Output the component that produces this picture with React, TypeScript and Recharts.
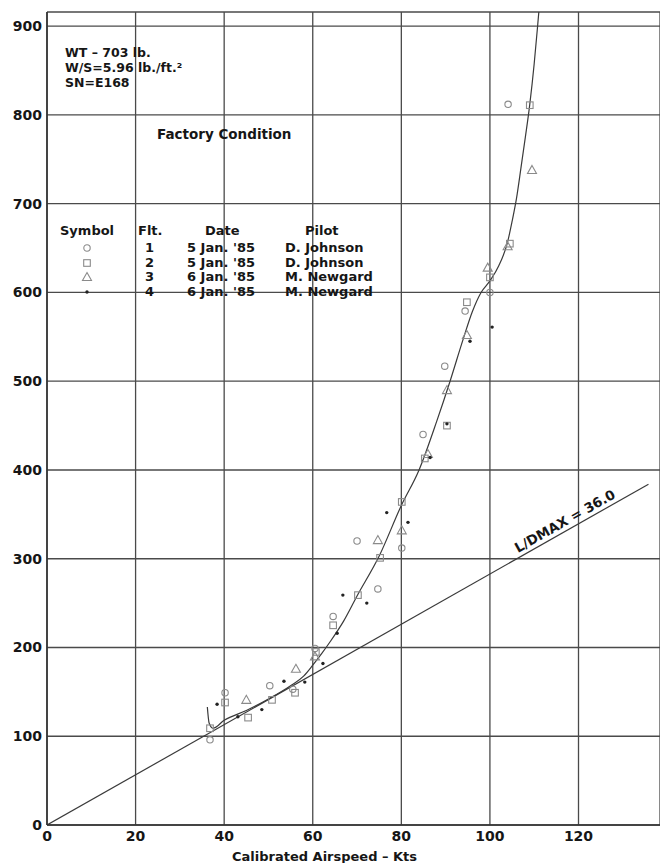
import { ComposedChart, Line, Scatter, XAxis, YAxis, CartesianGrid } from 'recharts'

const X_TICKS = [0, 20, 40, 60, 80, 100, 120]
const Y_TICKS = [0, 100, 200, 300, 400, 500, 600, 700, 800, 900]

// flight test points, calibrated airspeed (kts) vs rate of sink
const flight1 = [
  { x: 36.8, y: 96 }, { x: 40.2, y: 149 }, { x: 50.3, y: 157 }, { x: 55.5, y: 153 }, { x: 60.5, y: 199 },
  { x: 64.6, y: 235 }, { x: 70, y: 320 }, { x: 74.7, y: 266 }, { x: 80.1, y: 312 }, { x: 84.9, y: 440 },
  { x: 89.8, y: 517 }, { x: 94.4, y: 579 }, { x: 100, y: 600 }, { x: 104.1, y: 812 },
]
const flight2 = [
  { x: 36.8, y: 109 }, { x: 40.2, y: 138 }, { x: 45.4, y: 121 }, { x: 50.8, y: 141 }, { x: 56, y: 149 },
  { x: 60.7, y: 195 }, { x: 64.6, y: 225 }, { x: 70.2, y: 259 }, { x: 75.2, y: 301 }, { x: 80.1, y: 364 },
  { x: 85.3, y: 413 }, { x: 90.3, y: 450 }, { x: 94.8, y: 589 }, { x: 100, y: 617 }, { x: 104.5, y: 655 },
  { x: 109, y: 811 },
]
const flight3 = [
  { x: 45, y: 141 }, { x: 56.2, y: 176 }, { x: 60.5, y: 190 }, { x: 74.7, y: 321 }, { x: 80.1, y: 332 },
  { x: 86, y: 418 }, { x: 90.3, y: 490 }, { x: 94.8, y: 552 }, { x: 99.5, y: 628 }, { x: 104, y: 652 },
  { x: 109.5, y: 738 },
]
const flight4 = [
  { x: 38.4, y: 136 }, { x: 43.1, y: 122 }, { x: 48.5, y: 130 }, { x: 53.5, y: 162 }, { x: 58.2, y: 161 },
  { x: 62.3, y: 182 }, { x: 65.5, y: 216 }, { x: 66.8, y: 259 }, { x: 72.2, y: 250 }, { x: 76.7, y: 352 },
  { x: 81.5, y: 341 }, { x: 86.5, y: 414 }, { x: 90.3, y: 452 }, { x: 95.5, y: 545 }, { x: 100.5, y: 561 },
]

// faired curve through the data
const fairedCurve = [
  { x: 36.2, y: 133 }, { x: 36.6, y: 115 }, { x: 37.5, y: 109 }, { x: 40, y: 118 }, { x: 45, y: 129 },
  { x: 50, y: 142 }, { x: 55, y: 157 }, { x: 58, y: 168 }, { x: 60, y: 180 }, { x: 62, y: 193 },
  { x: 64, y: 207 }, { x: 67, y: 230 }, { x: 70, y: 258 }, { x: 75, y: 303 }, { x: 80, y: 360 },
  { x: 84, y: 400 }, { x: 88, y: 455 }, { x: 91, y: 500 }, { x: 94, y: 548 }, { x: 96, y: 578 },
  { x: 98, y: 600 }, { x: 100, y: 613 }, { x: 102, y: 630 }, { x: 104, y: 657 }, { x: 105, y: 680 },
  { x: 106, y: 706 }, { x: 107, y: 740 }, { x: 108, y: 775 }, { x: 109, y: 812 }, { x: 110, y: 858 },
  { x: 110.8, y: 902 }, { x: 111.2, y: 925 },
]

// L/D max tangent line
const ldLine = [{ x: 0, y: 0 }, { x: 135.8, y: 384 }]
const ldLabel = [{ x: 118, y: 333 }]

const legendRows = [
  { flt: '1', date: "5 Jan. '85", pilot: 'D. Johnson', sym: 'circle' },
  { flt: '2', date: "5 Jan. '85", pilot: 'D. Johnson', sym: 'square' },
  { flt: '3', date: "6 Jan. '85", pilot: 'M. Newgard', sym: 'triangle' },
  { flt: '4', date: "6 Jan. '85", pilot: 'M. Newgard', sym: 'dot' },
]

const MARK = '#8a8a8a'
const INK = '#161616'
const FONT = '"DejaVu Sans", sans-serif'

function Sym({ kind, cx, cy }: { kind: string; cx: number; cy: number }) {
  if (kind === 'circle') return <circle cx={cx} cy={cy} r={3.2} fill="none" stroke={MARK} strokeWidth={1.1} />
  if (kind === 'square') return <rect x={cx - 3.3} y={cy - 3.3} width={6.6} height={6.6} fill="none" stroke={MARK} strokeWidth={1.1} />
  if (kind === 'triangle') return <path d={`M${cx},${cy - 4.5}L${cx + 4.5},${cy + 3.5}L${cx - 4.5},${cy + 3.5}Z`} fill="none" stroke={MARK} strokeWidth={1.1} />
  return <circle cx={cx} cy={cy} r={1.7} fill="#222" />
}

const shapeOf = (kind: string) => (p: any) => <Sym kind={kind} cx={p.cx} cy={p.cy} />

const LdText = (p: any) => (
  <text x={p.cx} y={p.cy} dy={-5} textAnchor="middle" transform={`rotate(-29.5 ${p.cx} ${p.cy})`}
    fontFamily={FONT} fontWeight="bold" fontSize={13.5} fill={INK}>
    L/DMAX = 36.0
  </text>
)

const txt = (extra: React.CSSProperties): React.CSSProperties => ({
  position: 'absolute', fontFamily: FONT, fontWeight: 'bold', color: INK, whiteSpace: 'nowrap', lineHeight: '15px', ...extra,
})

export default function App() {
  const rowY = [248, 263, 277, 292]
  return (
    <div style={{ position: 'absolute', left: 0, top: 0, width: 660, height: 863, background: '#fff', overflow: 'hidden' }}>
      <ComposedChart width={660} height={863} margin={{ top: 12, right: 0, left: 7, bottom: 8 }}>
        <CartesianGrid stroke="#4a4a4a" strokeWidth={1.3} />
        <XAxis type="number" dataKey="x" domain={[0, 138.4]} ticks={X_TICKS} height={30} allowDataOverflow
          tickLine={false} tickSize={4} tickMargin={2} axisLine={{ stroke: '#333', strokeWidth: 1.6 }}
          tick={{ fontFamily: FONT, fontWeight: 'bold', fontSize: 14, fill: INK }} />
        <YAxis type="number" dataKey="y" domain={[0, 916]} ticks={Y_TICKS} width={40} allowDataOverflow
          tickLine={false} tickSize={3} tickMargin={2} axisLine={{ stroke: '#333', strokeWidth: 1.6 }}
          tick={{ fontFamily: FONT, fontWeight: 'bold', fontSize: 14, fill: INK }} />
        <Line data={ldLine} dataKey="y" type="linear" stroke="#3a3a3a" strokeWidth={1.2} dot={false} isAnimationActive={false} />
        <Line data={fairedCurve} dataKey="y" type="monotone" stroke="#3a3a3a" strokeWidth={1.2} dot={false} isAnimationActive={false} />
        <Scatter data={flight1} shape={shapeOf('circle')} isAnimationActive={false} />
        <Scatter data={flight2} shape={shapeOf('square')} isAnimationActive={false} />
        <Scatter data={flight3} shape={shapeOf('triangle')} isAnimationActive={false} />
        <Scatter data={flight4} shape={shapeOf('dot')} isAnimationActive={false} />
        <Scatter data={ldLabel} shape={LdText} isAnimationActive={false} />
      </ComposedChart>

      <div style={txt({ left: 65, top: 45, fontSize: 12.5 })}>WT – 703 lb.</div>
      <div style={txt({ left: 65, top: 60, fontSize: 12.5 })}>W/S=5.96 lb./ft.²</div>
      <div style={txt({ left: 65, top: 75, fontSize: 12.5 })}>SN=E168</div>
      <div style={txt({ left: 157, top: 127, fontSize: 13.5 })}>Factory Condition</div>

      <div style={txt({ left: 60, top: 223, fontSize: 13 })}>Symbol</div>
      <div style={txt({ left: 138, top: 223, fontSize: 13 })}>Flt.</div>
      <div style={txt({ left: 205, top: 223, fontSize: 13 })}>Date</div>
      <div style={txt({ left: 305, top: 223, fontSize: 13 })}>Pilot</div>
      {legendRows.map((r, i) => (
        <div key={i}>
          <svg style={{ position: 'absolute', left: 80, top: rowY[i] - 7, width: 14, height: 14 }}>
            <Sym kind={r.sym} cx={7} cy={7} />
          </svg>
          <div style={txt({ left: 145, top: rowY[i] - 8, fontSize: 13 })}>{r.flt}</div>
          <div style={txt({ left: 187, top: rowY[i] - 8, fontSize: 13 })}>{r.date}</div>
          <div style={txt({ left: 285, top: rowY[i] - 8, fontSize: 13 })}>{r.pilot}</div>
        </div>
      ))}

      <div style={txt({ left: 232, top: 849, fontSize: 13 })}>Calibrated Airspeed – Kts</div>
    </div>
  )
}
